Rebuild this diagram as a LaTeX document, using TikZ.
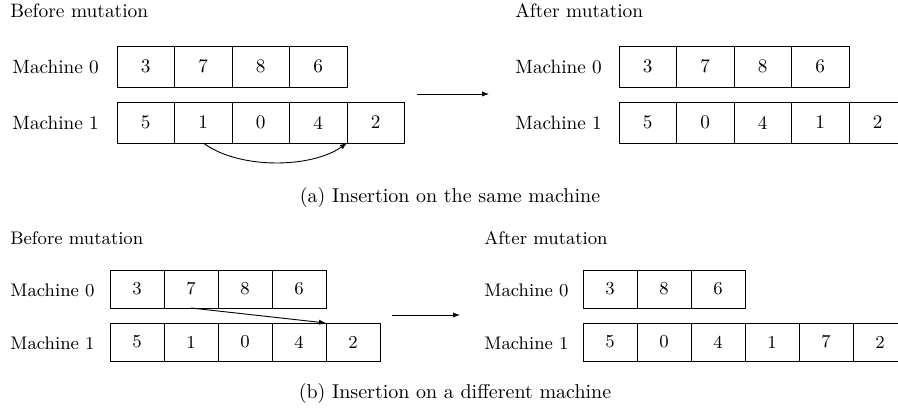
\documentclass[tikz,border=0pt]{standalone}
\usetikzlibrary{arrows.meta}
\begin{document}
\begin{tikzpicture}[x=0.5pt,y=-0.5pt,
  cellA/.style={draw, line width=0.45pt, minimum width=28.75pt, minimum height=20.5pt, inner sep=0pt, outer sep=0pt, font=\fontsize{9.6}{11}\selectfont},
  cellB/.style={draw, line width=0.45pt, minimum width=27pt, minimum height=19pt, inner sep=0pt, outer sep=0pt, font=\fontsize{9.1}{11}\selectfont},
  lblA/.style={anchor=west, inner sep=0pt, font=\fontsize{9.6}{11}\selectfont},
  lblB/.style={anchor=west, inner sep=0pt, font=\fontsize{9.1}{11}\selectfont},
  headA/.style={anchor=base west, inner sep=0pt, font=\fontsize{9.7}{11}\selectfont},
  headB/.style={anchor=base west, inner sep=0pt, font=\fontsize{9.1}{11}\selectfont},
  captext/.style={anchor=base, inner sep=0pt, font=\fontsize{10}{12}\selectfont},
  arr/.style={-{Latex[length=3.5pt,width=2.6pt]}, line width=0.45pt}]
\clip (0,0) rectangle (898,407);

% ---------- (a) ----------
\node[headA] (hbA) at (10,18) {Before mutation};
\node[headA] (haA) at (515,18) {After mutation};
\node[lblA] (lA0) at (12,67) {Machine 0};
\node[lblA] (lA1) at (12,123) {Machine 1};
\node[lblA] (rA0) at (515,67) {Machine 0};
\node[lblA] (rA1) at (515,123) {Machine 1};

\foreach \v [count=\i from 0] in {3,7,8,6}
  \node[cellA] (ta0\i) at ({117+28.75+57.5*\i},66.5) {\v};
\foreach \v [count=\i from 0] in {5,1,0,4,2}
  \node[cellA] (ta1\i) at ({117+28.75+57.5*\i},122.5) {\v};
\foreach \v [count=\i from 0] in {3,7,8,6}
  \node[cellA] (tb0\i) at ({619+28.75+57.5*\i},66.5) {\v};
\foreach \v [count=\i from 0] in {5,0,4,1,2}
  \node[cellA] (tb1\i) at ({619+28.75+57.5*\i},122.5) {\v};

\draw[arr] (ta11.south) .. controls (240,170) and (312,168) .. (ta14.south west);
\coordinate (hA1) at (417,94);
\coordinate (hA2) at (489,94);
\draw[arr] (hA1) -- (hA2);

\node[captext] (capA) at (450,202) {(a) Insertion on the same machine};

% ---------- (b) ----------
\node[headB] (hbB) at (10,244) {Before mutation};
\node[headB] (haB) at (484,244) {After mutation};
\node[lblB] (lB0) at (10,290) {Machine 0};
\node[lblB] (lB1) at (10,343) {Machine 1};
\node[lblB] (rB0) at (484,290) {Machine 0};
\node[lblB] (rB1) at (484,343) {Machine 1};

\foreach \v [count=\i from 0] in {3,7,8,6}
  \node[cellB] (ba0\i) at ({110+27+54*\i},289) {\v};
\foreach \v [count=\i from 0] in {5,1,0,4,2}
  \node[cellB] (ba1\i) at ({110+27+54*\i},342) {\v};
\foreach \v [count=\i from 0] in {3,8,6}
  \node[cellB] (bb0\i) at ({583+27+54*\i},289) {\v};
\foreach \v [count=\i from 0] in {5,0,4,1,7,2}
  \node[cellB] (bb1\i) at ({583+27+54*\i},342) {\v};

\draw[arr] (ba01.south) -- (ba14.north west);
\coordinate (hB1) at (392,315);
\coordinate (hB2) at (460,315);
\draw[arr] (hB1) -- (hB2);

\node[captext] (capB) at (455,398) {(b) Insertion on a different machine};
\end{tikzpicture}
\end{document}
